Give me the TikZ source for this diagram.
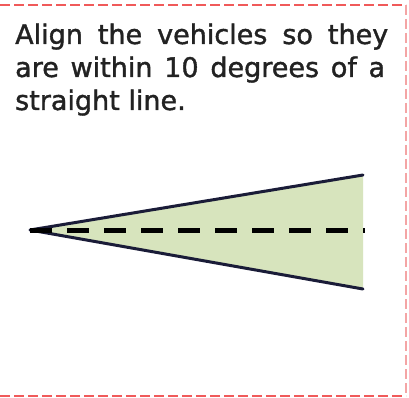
\documentclass[tikz,border=0pt]{standalone}
\usepackage{fontspec}
\setmainfont{DejaVu Sans}
\newfontfamily\labelfont{DejaVu Sans}[FakeBold=1.4]
\definecolor{wedgefill}{HTML}{D7E4BD}
\definecolor{edgecol}{HTML}{1A1C38}
\definecolor{bordercol}{HTML}{F05A5A}
\definecolor{borderlight}{HTML}{F4A5A5}
\definecolor{txtcol}{HTML}{222222}
\begin{document}
\begin{tikzpicture}[x=1pt,y=-1pt,
  txt/.style={anchor=base west,inner sep=0pt,text=txtcol,font=\labelfont\fontsize{27}{30}\selectfont},
  wedgeedge/.style={draw=edgecol,line width=3pt,line cap=round,line join=round},
  dashline/.style={draw=black,line width=5pt,dash pattern=on 22pt off 15pt},
  borderline/.style={draw=bordercol,line width=2pt,dash pattern=on 10pt off 4pt},
  borderright/.style={draw=borderlight,line width=1.2pt,dash pattern=on 10pt off 4pt}]
\useasboundingbox (0,0) rectangle (409,398);
\fill[white] (0,0) rectangle (409,398);
% border
\coordinate (tl) at (0,5);
\coordinate (tr) at (406,5);
\coordinate (br) at (406,396);
\coordinate (bl) at (0,396);
\draw[borderline] (tl) -- (tr);
\draw[borderline] (bl) -- (br);
\draw[borderright] (tr) -- (br);
% text
\node[txt] (l1) at (15,44) {\makebox[373pt][s]{Align the vehicles so they}};
\node[txt] (l2) at (15,77) {\makebox[370pt][s]{are within 10 degrees of a}};
\node[txt] (l3) at (15,110) {straight line.};
% wedge
\coordinate (apex) at (30,230);
\coordinate (up) at (363,175);
\coordinate (lo) at (363,289);
\coordinate (dend) at (365,230);
\fill[wedgefill] (apex) -- (up) -- (lo) -- cycle;
\draw[wedgeedge] (up) -- (apex) -- (lo);
\draw[dashline] (apex) -- (dend);
\end{tikzpicture}
\end{document}
